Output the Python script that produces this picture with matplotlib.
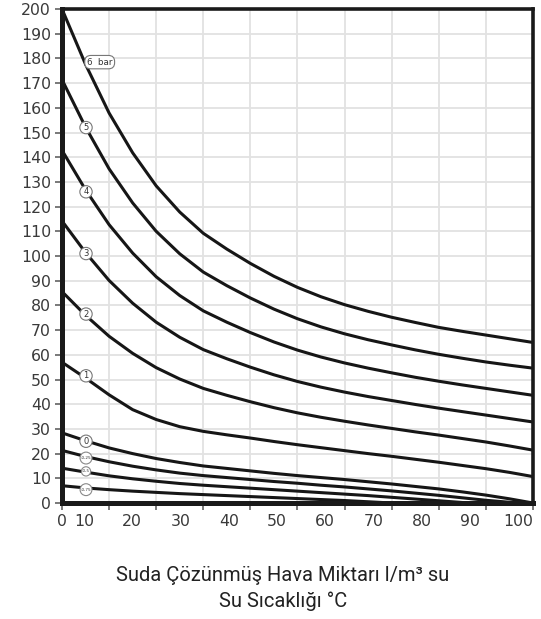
import matplotlib
matplotlib.use("Agg")
import matplotlib.pyplot as plt
from matplotlib.transforms import ScaledTranslation

# su sicakligi (°C)
temp = [0, 5, 10, 15, 20, 25, 30, 35, 40, 45, 50, 55, 60, 65, 70, 75, 80, 85, 90, 95, 100]

# cozunmus hava miktari l/m3 su, her basinc egrisi icin
bar_6 = [200.0, 177.6, 157.9, 141.8, 128.4, 117.8, 109.2, 102.8, 97.0, 91.8, 87.3,
         83.5, 80.3, 77.6, 75.2, 73.1, 71.1, 69.5, 68.0, 66.5, 65.0]
bar_5 = [171.4, 152.2, 135.3, 121.5, 110.0, 100.9, 93.5, 88.0, 83.0, 78.5, 74.6,
         71.3, 68.5, 66.1, 64.0, 62.0, 60.2, 58.6, 57.1, 55.8, 54.6]
bar_4 = [142.8, 126.8, 112.7, 101.2, 91.6, 84.0, 77.8, 73.2, 69.0, 65.2, 61.9,
         59.1, 56.7, 54.6, 52.7, 50.9, 49.3, 47.8, 46.4, 45.0, 43.6]
bar_3 = [114.2, 101.4, 90.1, 80.9, 73.2, 67.1, 62.1, 58.4, 55.0, 51.9, 49.2,
         46.9, 44.9, 43.1, 41.5, 39.9, 38.4, 37.0, 35.6, 34.2, 32.8]
bar_2 = [85.6, 76.0, 67.5, 60.6, 54.8, 50.2, 46.4, 43.6, 41.0, 38.6, 36.5,
         34.7, 33.1, 31.6, 30.2, 28.8, 27.5, 26.1, 24.7, 23.1, 21.4]
bar_1 = [57.0, 50.6, 43.8, 37.8, 33.8, 30.9, 29.0, 27.6, 26.3, 24.9, 23.6,
         22.4, 21.2, 20.0, 18.9, 17.7, 16.5, 15.2, 13.9, 12.4, 10.7]
bar_0 = [28.4, 25.2, 22.3, 20.0, 18.0, 16.4, 15.0, 14.0, 13.0, 12.0, 11.1,
         10.3, 9.5, 8.6, 7.7, 6.7, 5.7, 4.5, 3.2, 1.7, 0.0]
bar_m25 = [21.3, 18.8, 16.7, 14.9, 13.4, 12.1, 11.1, 10.3, 9.5, 8.7, 8.0,
           7.2, 6.5, 5.7, 4.9, 4.0, 3.1, 2.1, 1.1, 0.3, 0.0]
bar_m50 = [14.1, 12.5, 11.0, 9.8, 8.8, 7.9, 7.2, 6.6, 6.0, 5.4, 4.8,
           4.2, 3.6, 3.0, 2.3, 1.6, 0.9, 0.2, 0.0]
bar_m75 = [7.0, 6.1, 5.4, 4.8, 4.3, 3.8, 3.4, 3.0, 2.6, 2.2, 1.8,
           1.4, 1.0, 0.5, 0.0]

curves = [bar_6, bar_5, bar_4, bar_3, bar_2, bar_1, bar_0, bar_m25, bar_m50, bar_m75]
curve_labels = ["6  bar", "5", "4", "3", "2", "1", "0", "-0,25", "-0,5", "-0,75"]
label_pos = [(8.0, 178.5), (5.1, 152), (5.1, 126), (5.1, 101), (5.1, 76.5),
             (5.1, 51.5), (5.1, 25), (5.1, 18.2), (5.1, 12.8), (5.1, 5.4)]

x_ticks = list(range(0, 101, 10))
y_ticks = list(range(0, 201, 10))

fig = plt.figure(figsize=(5.41, 6.19), dpi=100)
ax = fig.add_axes([0.1146, 0.1874, 0.8706, 0.798])

for vals in curves:
    ax.plot(temp[:len(vals)], vals, color="#161616", lw=2.2, solid_joinstyle="round",
            solid_capstyle="butt", zorder=3)

for txt, (lx, ly) in zip(curve_labels, label_pos):
    if txt.startswith("6"):
        box = dict(boxstyle="round,pad=0.25,rounding_size=0.7", fc="white", ec="#777777", lw=0.8)
        fs = 6.3
    elif txt.startswith("-"):
        box = dict(boxstyle="circle,pad=0.15", fc="white", ec="#888888", lw=0.8)
        fs = 3.0
    else:
        box = dict(boxstyle="circle,pad=0.2", fc="white", ec="#777777", lw=0.8)
        fs = 6.0
    ax.text(lx, ly, txt, fontsize=fs, color="#333333", ha="center", va="center",
            bbox=box, zorder=4)

ax.set_xlim(0, 100)
ax.set_ylim(0, 200)
ax.set_xticks(x_ticks)
ax.set_yticks(y_ticks)
ax.set_xticklabels([str(v) for v in x_ticks])
ax.set_yticklabels([str(v) for v in y_ticks])
ax.grid(True, color="#e2e2e2", lw=1.3, zorder=0)
ax.set_axisbelow(True)

for side in ["left", "bottom"]:
    ax.spines[side].set_linewidth(3.6)
for side in ["top", "right"]:
    ax.spines[side].set_linewidth(2.6)
for sp in ax.spines.values():
    sp.set_color("#1a1a1a")
    sp.set_zorder(5)

ax.tick_params(axis="both", direction="out", length=5, width=1.1, color="#555555",
               labelsize=11.3, labelcolor="#3a3a3a", pad=3)
for lbl in ax.get_xticklabels() + ax.get_yticklabels():
    lbl.set_family("DejaVu Sans")

# etiketler orijinalde sola kaymis
for i, lbl in enumerate(ax.get_xticklabels()[1:]):
    shift = (25 - i * 1.1) / 100.0
    lbl.set_transform(lbl.get_transform() + ScaledTranslation(-shift, 0, fig.dpi_scale_trans))

fig.text(0.523, 0.071, "Suda Çözünmüş Hava Miktarı l/m³ su", ha="center", va="center",
         fontsize=14.5, color="#222222", family=["Liberation Sans Narrow", "Roboto", "DejaVu Sans"])
fig.text(0.523, 0.029, "Su Sıcaklığı °C", ha="center", va="center",
         fontsize=14.5, color="#222222", family=["Liberation Sans Narrow", "Roboto", "DejaVu Sans"])

plt.savefig("out.png", dpi=100)
